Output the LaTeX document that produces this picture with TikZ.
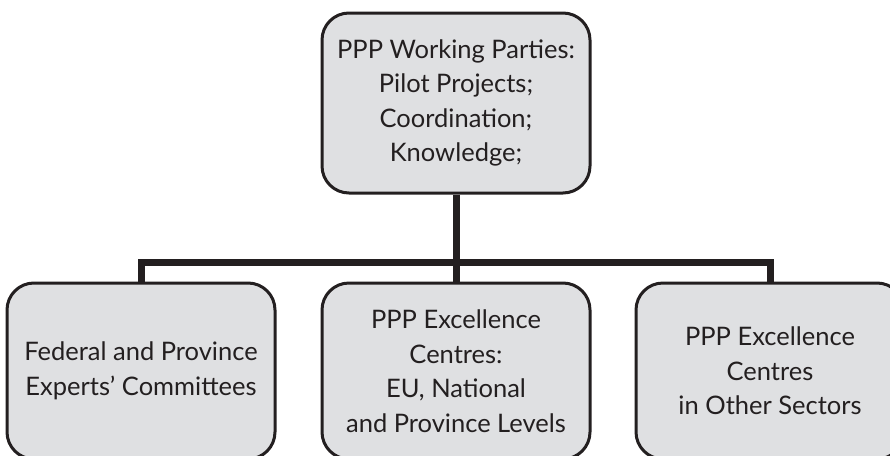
\documentclass[tikz,border=0pt]{standalone}
\usepackage{fontspec}
\setmainfont{Lato}
\usetikzlibrary{positioning}
\definecolor{boxfill}{HTML}{DFE0E2}
\definecolor{ink}{HTML}{231F20}

\begin{document}
\begin{tikzpicture} [x=1pt, y=-1pt, node distance=44pt,
                    line width=3pt,
                    unit/.style={rectangle,rounded corners=27pt,draw=ink,fill=boxfill,
                        text=ink,align=center,font=\fontsize{25.5}{34.5}\selectfont,
                        minimum width=268pt,inner sep=0pt},
                    link/.style={draw=ink,line width=7pt}]

\clip (0,0) rectangle (890,455);

\node[unit,minimum height=180pt] (Parties) at (456,103)
    {PPP Working Parties:\\Pilot Projects;\\Coordination;\\Knowledge;};
\node[unit,minimum height=176pt] (Centres) [below=87pt of Parties]
    {PPP Excellence\\Centres:\\EU, National\\and Province Levels};
\node[unit,minimum height=176pt] (Experts) [left=of Centres]
    {Federal and Province\\Experts' Committees};
\node[unit,minimum height=176pt] (Sectors) [right=43pt of Centres]
    {PPP Excellence\\Centres\\in Other Sectors};

\coordinate (bus) at (456,262);

 \path[link]
    (Parties) edge (Centres)
    (Experts.north) edge[to path={|- (bus) -| (\tikztotarget)}] (Sectors.north);
\end{tikzpicture}
\end{document}
